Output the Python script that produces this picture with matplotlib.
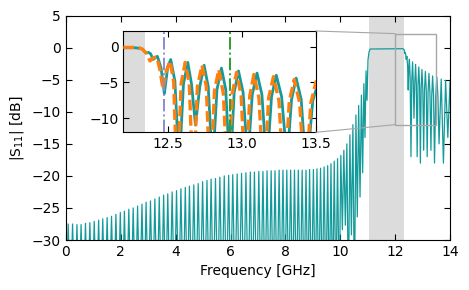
import numpy as np
import matplotlib.pyplot as plt
from matplotlib.patches import Rectangle, ConnectionPatch

lo_peak_f = [0.08, 0.24, 0.40, 0.55, 0.71, 0.87, 1.03, 1.19, 1.34, 1.50,
             1.66, 1.82, 1.98, 2.13, 2.29, 2.45, 2.61, 2.77, 2.92, 3.08,
             3.24, 3.40, 3.56, 3.71, 3.87, 4.03, 4.19, 4.35, 4.50, 4.66,
             4.82, 4.98, 5.14, 5.29, 5.45, 5.61, 5.77, 5.93, 6.08, 6.24,
             6.40, 6.56, 6.72, 6.87, 7.03, 7.18, 7.33, 7.48, 7.62, 7.77,
             7.91, 8.05, 8.19, 8.33, 8.47, 8.61, 8.75, 8.88, 9.02, 9.15,
             9.28, 9.41, 9.54, 9.66, 9.78, 9.90, 10.02, 10.13, 10.24, 10.35,
             10.46, 10.57, 10.67, 10.77, 10.86, 10.94, 11.01]
lo_peak_db = [-27.5, -27.5, -27.6, -27.6, -27.4, -27.3, -27.1, -26.9, -26.7, -26.5,
              -26.3, -26.0, -25.7, -25.5, -25.2, -25.0, -24.7, -24.4, -24.1, -23.9,
              -23.6, -23.3, -23.0, -22.8, -22.5, -22.3, -22.0, -21.8, -21.6, -21.4,
              -21.2, -20.9, -20.7, -20.5, -20.4, -20.2, -20.0, -19.9, -19.8, -19.7,
              -19.6, -19.5, -19.4, -19.4, -19.3, -19.3, -19.2, -19.2, -19.2, -19.1,
              -19.1, -19.1, -19.1, -19.1, -19.1, -19.1, -19.1, -19.0, -19.0, -18.9,
              -18.8, -18.6, -18.4, -18.1, -17.7, -17.3, -16.8, -16.0, -15.0, -13.6,
              -12.0, -10.5, -9.0, -7.4, -5.6, -3.6, -1.9]
lo_dip_f = [0.16, 0.32, 0.475, 0.63, 0.79, 0.95, 1.11, 1.265, 1.42, 1.58,
            1.74, 1.90, 2.055, 2.21, 2.37, 2.53, 2.69, 2.845, 3.00, 3.16,
            3.32, 3.48, 3.635, 3.79, 3.95, 4.11, 4.27, 4.425, 4.58, 4.74,
            4.90, 5.06, 5.215, 5.37, 5.53, 5.69, 5.85, 6.005, 6.16, 6.32,
            6.48, 6.64, 6.795, 6.95, 7.105, 7.255, 7.405, 7.55, 7.695, 7.84,
            7.98, 8.12, 8.26, 8.40, 8.54, 8.68, 8.815, 8.95, 9.085, 9.215,
            9.345, 9.475, 9.60, 9.72, 9.84, 9.96, 10.075, 10.185, 10.295, 10.405,
            10.515, 10.62, 10.72, 10.815, 10.90, 10.975]
# minima below -30 dB run off the bottom of the axes
lo_dip_db = [-40, -40, -40, -40, -40, -40, -40, -40, -40, -40,
             -40, -40, -40, -40, -40, -40, -40, -40, -40, -40,
             -40, -40, -40, -40, -40, -40, -40, -40, -40, -40,
             -40, -40, -40, -40, -40, -40, -40, -40, -40, -40,
             -40, -40, -40, -40, -40, -40, -40, -40, -40, -40,
             -40, -40, -40, -40, -40, -40, -40, -40, -40, -40,
             -40, -40, -40, -40, -40, -40, -28.4, -27.7, -40, -29.2,
             -40, -26.4, -23.3, -19.5, -14.0, -8.2]

# ---- stop band (total reflection) ----
gap_f = [11.05, 11.09, 12.28]
gap_db = [-0.6, -0.2, -0.15]

# ---- measured, upper band ----
hi_f = [12.30, 12.33, 12.355, 12.37, 12.385, 12.40, 12.43, 12.455, 12.477, 12.50,
        12.52, 12.548, 12.577, 12.606, 12.635, 12.66, 12.687, 12.716, 12.745, 12.773,
        12.802, 12.832, 12.862, 12.891, 12.92, 12.948, 12.977, 13.008, 13.04, 13.07,
        13.102, 13.135, 13.168, 13.20, 13.232, 13.268, 13.305, 13.335, 13.366, 13.40,
        13.435, 13.478, 13.52, 13.56, 13.60, 13.68, 13.76, 13.84, 13.92, 14.0, 14.05]
hi_db = [-0.2, -0.35, -0.9, -0.8, -1.0, -1.8, -1.35, -3.0, -6.6, -2.8,
         -1.8, -4.8, -17.0, -5.2, -2.2, -5.2, -11.0, -5.6, -2.6, -5.6,
         -17.0, -6.0, -3.0, -6.0, -18.0, -6.4, -3.4, -6.4, -16.0, -6.7,
         -3.7, -6.7, -17.0, -7.0, -4.0, -7.0, -16.0, -7.4, -4.4, -7.4,
         -18.0, -7.6, -4.6, -7.6, -15.0, -4.9, -18.0, -5.1, -14.0, -5.3, -15.0]

# ---- simulation (inset only) ----
sim_f = [12.20, 12.30, 12.33, 12.357, 12.38, 12.40, 12.425, 12.447, 12.468, 12.49,
         12.516, 12.54, 12.563, 12.59, 12.618, 12.645, 12.672, 12.70, 12.731, 12.76,
         12.787, 12.815, 12.844, 12.875, 12.905, 12.935, 12.964, 12.995, 13.025, 13.053,
         13.081, 13.115, 13.149, 13.18, 13.213, 13.25, 13.285, 13.32, 13.353, 13.39,
         13.427, 13.465, 13.50, 13.54]
sim_db = [-0.1, -0.1, -0.35, -1.0, -2.0, -1.6, -1.4, -3.2, -6.0, -3.4,
          -2.0, -5.0, -20.0, -5.2, -2.2, -5.2, -20.0, -5.6, -2.6, -5.6,
          -20.0, -6.2, -3.2, -6.6, -20.0, -6.6, -3.6, -6.9, -20.0, -6.9,
          -3.9, -7.2, -20.0, -7.2, -4.2, -7.6, -20.0, -7.6, -4.6, -7.9,
          -20.0, -7.9, -4.9, -8.0]

stop_band = (11.05, 12.31)
marker_f = [12.477, 12.918]

# assemble the measured trace in frequency order
lo_f = np.array(lo_peak_f + lo_dip_f)
lo_db = np.array(lo_peak_db + lo_dip_db)
order = np.argsort(lo_f)
meas_f = np.concatenate([[0.0], lo_f[order], gap_f, hi_f])
meas_db = np.concatenate([[-40.0], lo_db[order], gap_db, hi_db])

teal = "#139b9b"
orange = "#ff7f0e"

plt.rcParams["font.size"] = 10
fig = plt.figure(figsize=(4.69, 2.90), dpi=100)
ax = fig.add_axes([0.1407, 0.1724, 0.8188, 0.7735])

ax.axvspan(*stop_band, color="#dcdcdc", lw=0, zorder=0)
ax.plot(meas_f, meas_db, color=teal, lw=0.9, zorder=2)

ax.set_xlim(0, 14)
ax.set_ylim(-30, 5)
ax.set_xticks(np.arange(0, 15, 2))
ax.set_yticks(np.arange(-30, 6, 5))
ax.tick_params(direction="in", top=True, right=True, length=4)
ax.set_xlabel("Frequency [GHz]")
ax.set_ylabel("|S$_{11}$| [dB]")

# inset
axin = fig.add_axes([0.2629, 0.5438, 0.4109, 0.3493])
axin.axvspan(12.2, 12.345, color="#dcdcdc", lw=0, zorder=0)
axin.plot(meas_f, meas_db, color=teal, lw=2.0, zorder=2)
axin.plot(sim_f, sim_db, color=orange, lw=2.4, ls=(0, (3.2, 1.4)), zorder=3)
axin.axvline(marker_f[0], color="#8c8ccc", lw=1.4, ls="-.", zorder=4)
axin.axvline(marker_f[1], color="#2ca02c", lw=1.4, ls="-.", zorder=4)
axin.set_xlim(12.2, 13.5)
axin.set_ylim(-12, 2.2)
axin.set_xticks([12.5, 13.0, 13.5])
axin.set_yticks([0, -5, -10])
axin.tick_params(direction="in", top=True, right=True, length=4)

# zoom indicator on the main axes
rect = Rectangle((12.0, -12), 1.5, 14.2, fill=False, ec="0.65", lw=1.0, zorder=3)
ax.add_patch(rect)
for ya, yd in [(1, 2.2), (0, -12)]:
    con = ConnectionPatch(xyA=(1, ya), coordsA=axin.transAxes,
                          xyB=(12.0, yd), coordsB=ax.transData,
                          color="0.65", lw=0.8)
    fig.add_artist(con)

fig.savefig("out.png", dpi=100)
